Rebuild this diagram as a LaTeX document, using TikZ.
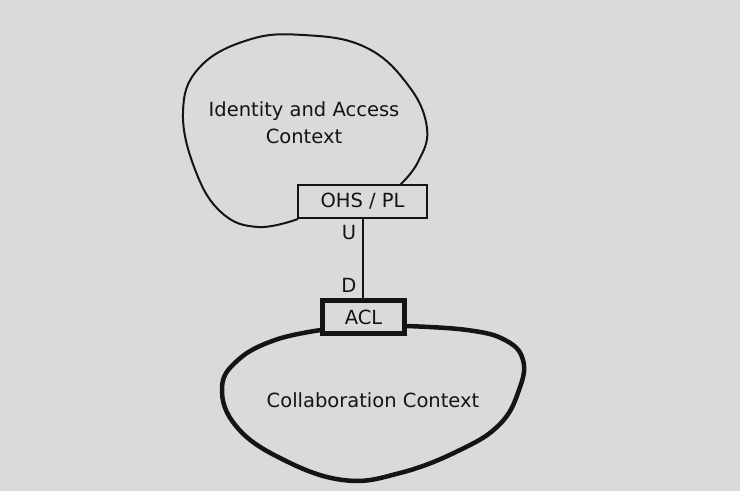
\documentclass[tikz,border=0pt]{standalone}
\usepackage{fontspec}
\setmainfont{DejaVu Sans}
\definecolor{bg}{RGB}{218,218,218}
\definecolor{ink}{RGB}{20,20,20}
\tikzset{
  lbl/.style={font=\fontsize{19.5}{27}\selectfont, text=ink, inner sep=0pt},
  boxnode/.style={draw=ink, fill=bg, inner sep=0pt, lbl},
  blobthin/.style={draw=ink, line width=2pt, line join=round},
  blobthick/.style={draw=ink, line width=4.5pt, line join=round},
}
\begin{document}
\begin{tikzpicture}[x=1pt, y=-1pt]
\fill[bg] (0,0) rectangle (740,491);
\useasboundingbox (0,0) rectangle (740,491);
% top blob
\draw[blobthin] plot[smooth, tension=0.7] coordinates {
 (298,219) (258,227) (222,213) (196,172) (183,113)
 (199,68) (248,40) (303,35) (365,47) (408,85) (427,128) (418,162) (400,185)};
% bottom blob
\draw[blobthick] plot[smooth, tension=0.7] coordinates {
 (321,330) (275,340) (238,360) (222,388) (236,426) (280,458)
 (343,480) (400,473) (460,450) (500,424) (519,390) (523,360) (505,340) (467,330) (406,326)};
\node[lbl, align=center] (idctx) at (304,123) {Identity and Access\\Context};
\node[lbl] (colctx) at (373,400) {Collaboration Context};
\node[boxnode, line width=2.5pt, minimum width=129pt, minimum height=33pt] (ohs) at (362.6,201.5) {OHS / PL};
\node[boxnode, line width=5pt, minimum width=82pt, minimum height=33pt] (acl) at (363.5,317) {ACL};
\draw[ink, line width=2pt] (ohs.south) -- (acl.north -| ohs.south);
\node[lbl] (u) at (349,233) {U};
\node[lbl] (d) at (349,285) {D};
\end{tikzpicture}
\end{document}
